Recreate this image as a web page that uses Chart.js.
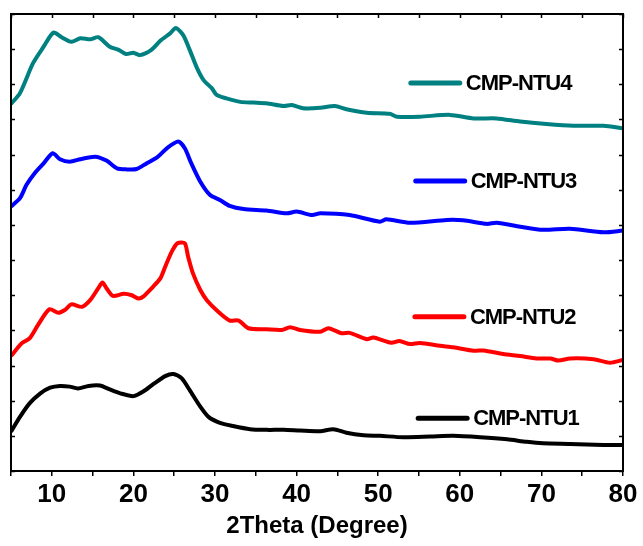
<!DOCTYPE html>
<html lang="en">
<head>
    <meta charset="UTF-8">
    <title>XRD patterns CMP-NTU1-4</title>
    <script src="https://cdn.jsdelivr.net/npm/chart.js"></script>
    <style>
        body {
            margin: 0;
            padding: 0;
            background-color: #ffffff;
        }
        #chart-container {
            width: 643px;
            height: 546px;
        }
    </style>
</head>
<body>
    <div id="chart-container">
        <canvas id="xrdChart"></canvas>
    </div>
    <script>
        // series names and x tick labels
        const seriesNames = ['CMP-NTU1', 'CMP-NTU2', 'CMP-NTU3', 'CMP-NTU4'];
        const xTickLabels = [10, 20, 30, 40, 50, 60, 70, 80];

        // (2theta, stacked intensity in offset units)
        const ntu1Angle = [5.0, 6.1, 7.3, 8.6, 9.8, 11.0, 12.2, 13.2, 14.5, 15.9, 17.1, 18.4, 20.0, 21.2, 22.6, 23.9, 24.9, 25.9, 26.9, 28.2, 29.2, 30.6, 32.2, 34.3, 36.3, 38.4, 40.4, 42.9, 44.5, 46.1, 48.2, 50.2, 53.1, 56.4, 59.2, 62.5, 65.8, 68.2, 70.2, 73.5, 77.6, 80.0];
        const ntu1Intensity = [1.12, 1.54, 1.93, 2.21, 2.37, 2.42, 2.40, 2.35, 2.42, 2.43, 2.32, 2.21, 2.13, 2.26, 2.50, 2.70, 2.76, 2.64, 2.30, 1.83, 1.54, 1.37, 1.28, 1.19, 1.17, 1.17, 1.15, 1.13, 1.19, 1.09, 1.02, 1.00, 0.96, 0.98, 1.00, 0.96, 0.90, 0.83, 0.79, 0.77, 0.74, 0.74];

        const ntu2Angle = [5.0, 6.3, 7.3, 8.3, 9.7, 10.8, 11.6, 12.4, 13.7, 14.7, 15.7, 16.2, 16.7, 17.5, 18.8, 19.8, 20.6, 21.2, 22.4, 23.3, 23.9, 24.7, 25.4, 26.3, 26.7, 27.3, 28.2, 29.0, 30.4, 31.8, 32.9, 34.1, 36.3, 38.2, 39.2, 40.4, 42.9, 43.9, 45.5, 46.5, 48.6, 49.4, 51.6, 52.6, 53.9, 55.1, 57.6, 59.2, 61.7, 62.9, 65.3, 67.4, 69.4, 71.1, 72.1, 73.5, 76.4, 78.4, 80.0];
        const ntu2Intensity = [3.27, 3.63, 3.78, 4.15, 4.60, 4.50, 4.58, 4.74, 4.67, 4.86, 5.20, 5.36, 5.20, 4.98, 5.04, 5.00, 4.91, 4.96, 5.24, 5.48, 5.81, 6.24, 6.48, 6.48, 6.10, 5.62, 5.15, 4.86, 4.53, 4.28, 4.28, 4.06, 4.03, 4.01, 4.09, 4.01, 3.96, 4.06, 3.92, 3.93, 3.75, 3.80, 3.65, 3.70, 3.61, 3.64, 3.56, 3.52, 3.42, 3.43, 3.33, 3.27, 3.20, 3.20, 3.14, 3.20, 3.18, 3.08, 3.16];

        const ntu3Angle = [5.0, 6.1, 6.9, 7.9, 9.0, 10.1, 11.0, 12.2, 13.5, 15.3, 16.7, 18.0, 19.2, 20.4, 21.6, 22.9, 24.1, 25.5, 26.3, 27.1, 28.2, 29.4, 30.6, 31.8, 33.5, 36.3, 38.8, 40.0, 41.9, 42.9, 46.5, 50.2, 51.0, 53.9, 58.4, 60.4, 63.3, 64.5, 67.4, 70.2, 73.5, 77.6, 80.0];
        const ntu3Intensity = [7.52, 7.76, 8.14, 8.47, 8.75, 9.04, 8.87, 8.80, 8.87, 8.94, 8.83, 8.61, 8.58, 8.59, 8.75, 8.92, 9.18, 9.37, 9.18, 8.75, 8.23, 7.85, 7.71, 7.54, 7.45, 7.41, 7.33, 7.38, 7.28, 7.33, 7.28, 7.09, 7.16, 7.06, 7.14, 7.13, 7.03, 7.06, 6.95, 6.86, 6.89, 6.79, 6.84];

        const ntu4Angle = [5.0, 6.1, 7.7, 9.0, 10.2, 11.2, 12.4, 13.5, 14.7, 15.7, 17.1, 18.2, 19.1, 20.0, 20.8, 22.2, 23.3, 24.5, 25.2, 26.1, 26.9, 27.8, 28.6, 29.6, 30.2, 31.4, 33.1, 34.7, 36.3, 38.4, 39.4, 40.8, 42.9, 44.7, 46.1, 48.6, 51.4, 52.3, 55.1, 58.8, 61.7, 64.5, 67.4, 70.6, 73.9, 77.6, 80.0];
        const ntu4Intensity = [10.44, 10.75, 11.60, 12.07, 12.47, 12.34, 12.21, 12.31, 12.28, 12.34, 12.07, 11.98, 11.86, 11.90, 11.83, 11.98, 12.24, 12.45, 12.60, 12.40, 11.98, 11.46, 11.12, 10.89, 10.70, 10.60, 10.50, 10.48, 10.46, 10.38, 10.41, 10.32, 10.33, 10.38, 10.29, 10.19, 10.16, 10.08, 10.08, 10.13, 10.03, 10.03, 9.94, 9.87, 9.82, 9.82, 9.75];

        const colors = ['#000000', '#ff0000', '#0000ff', '#008080'];

        function toPoints(xs, ys) {
            return xs.map((x, i) => ({ x: x, y: ys[i] }));
        }

        const datasets = [
            { label: seriesNames[0], data: toPoints(ntu1Angle, ntu1Intensity), borderColor: colors[0] },
            { label: seriesNames[1], data: toPoints(ntu2Angle, ntu2Intensity), borderColor: colors[1] },
            { label: seriesNames[2], data: toPoints(ntu3Angle, ntu3Intensity), borderColor: colors[2] },
            { label: seriesNames[3], data: toPoints(ntu4Angle, ntu4Intensity), borderColor: colors[3] },
        ].map(ds => Object.assign(ds, {
            borderWidth: 4,
            pointRadius: 0,
            tension: 0.25,
            fill: false,
        }));

        // frame round the plot, inward ticks on left/top/right
        const framePlugin = {
            id: 'frame',
            afterDatasetsDraw(chart) {
                const { ctx, chartArea: a, scales: { x, y } } = chart;
                ctx.save();
                ctx.strokeStyle = '#000';
                ctx.lineWidth = 1.5;
                ctx.beginPath();
                y.ticks.forEach(t => {
                    const py = Math.round(y.getPixelForValue(t.value)) + 0.5;
                    ctx.moveTo(a.left, py); ctx.lineTo(a.left + 4, py);
                    ctx.moveTo(a.right, py); ctx.lineTo(a.right - 4, py);
                });
                x.ticks.forEach(t => {
                    const px = Math.round(x.getPixelForValue(t.value)) + 0.5;
                    ctx.moveTo(px, a.top); ctx.lineTo(px, a.top + 4);
                });
                ctx.stroke();
                ctx.lineWidth = 2;
                ctx.strokeRect(a.left, a.top, a.right - a.left, a.bottom - a.top);
                ctx.restore();
            }
        };

        // labels placed beside each curve, in data units
        const curveLabelsPlugin = {
            id: 'curveLabels',
            afterDatasetsDraw(chart, args, opts) {
                const { ctx, scales: { x, y } } = chart;
                ctx.save();
                ctx.font = 'bold 22px "Liberation Sans", Arial, sans-serif';
                ctx.letterSpacing = '-1px';
                ctx.textBaseline = 'middle';
                opts.items.forEach((it, i) => {
                    const x0 = x.getPixelForValue(it.x0);
                    const x1 = x.getPixelForValue(it.x1);
                    const py = y.getPixelForValue(it.y);
                    ctx.strokeStyle = colors[i];
                    ctx.lineWidth = 5;
                    ctx.lineCap = 'round';
                    ctx.beginPath();
                    ctx.moveTo(x0, py);
                    ctx.lineTo(x1, py);
                    ctx.stroke();
                    ctx.fillStyle = '#000';
                    ctx.fillText(seriesNames[i], x1 + 6, py + 1);
                });
                ctx.restore();
            }
        };

        const ctx = document.getElementById('xrdChart').getContext('2d');
        new Chart(ctx, {
            type: 'line',
            data: { datasets: datasets },
            options: {
                responsive: true,
                maintainAspectRatio: false,
                animation: false,
                layout: { padding: { left: 11, right: 20, top: 14, bottom: 0 } },
                plugins: {
                    legend: { display: false },
                    tooltip: { enabled: false },
                    curveLabels: {
                        items: [
                            { x0: 54.9, x1: 60.9, y: 1.50 },
                            { x0: 54.5, x1: 60.5, y: 4.39 },
                            { x0: 54.6, x1: 60.6, y: 8.25 },
                            { x0: 54.0, x1: 60.0, y: 11.04 },
                        ]
                    }
                },
                scales: {
                    x: {
                        type: 'linear',
                        min: 5,
                        max: 80,
                        ticks: {
                            stepSize: 5,
                            autoSkip: false,
                            maxRotation: 0,
                            padding: 3,
                            color: '#000',
                            font: { family: '"Liberation Sans", Arial, sans-serif', size: 26, weight: 'bold' },
                            callback: v => xTickLabels.includes(v) ? String(v) : ''
                        },
                        grid: {
                            drawOnChartArea: false,
                            drawTicks: true,
                            tickLength: 5,
                            color: '#000',
                            lineWidth: 1.5
                        },
                        border: { display: false },
                        title: {
                            display: true,
                            text: '2Theta (Degree)',
                            color: '#000',
                            font: { family: '"Liberation Sans", Arial, sans-serif', size: 24, weight: 'bold' },
                            padding: { top: 0, bottom: 5 }
                        },
                        afterFit(scale) { scale.height = 75; }
                    },
                    y: {
                        min: 0,
                        max: 13,
                        ticks: { display: false, stepSize: 1 },
                        grid: { display: false, drawTicks: false },
                        border: { display: false },
                        afterFit(scale) { scale.width = 0; }
                    }
                }
            },
            plugins: [framePlugin, curveLabelsPlugin]
        });
    </script>
</body>
</html>
